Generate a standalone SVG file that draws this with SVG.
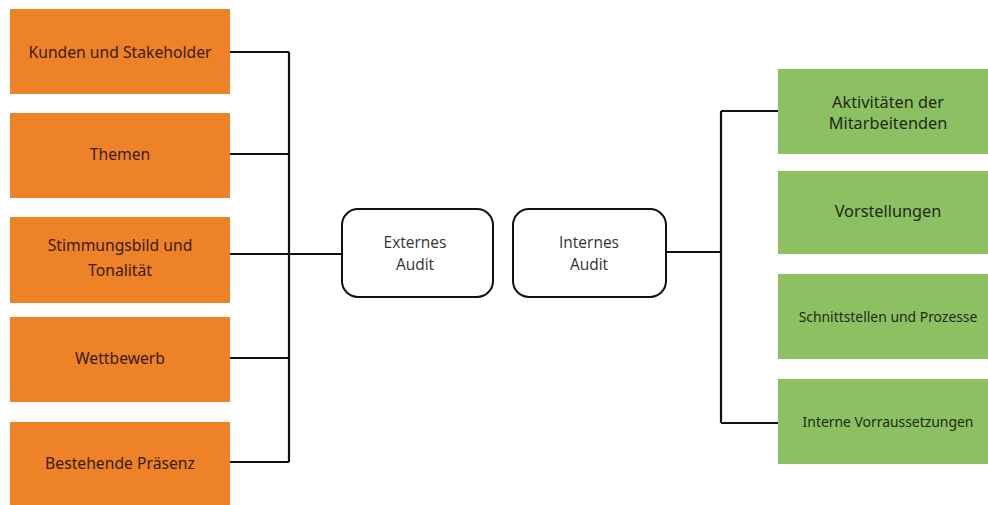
<svg xmlns="http://www.w3.org/2000/svg" width="988" height="505" viewBox="0 0 988 505">
<style>
.o{fill:#EE8228}
.g{fill:#8DC063}
.ot{font-family:"Noto Sans",sans-serif;font-size:15.7px;fill:#3a1c0c;text-anchor:middle}
.gt{font-family:"Noto Sans",sans-serif;font-size:16.3px;fill:#1f2a16;text-anchor:middle}
.gs{font-family:"Noto Sans",sans-serif;font-size:13.9px;fill:#1f2a16;text-anchor:middle}
.a{fill:#fff;stroke:#111;stroke-width:2}
.at{font-family:"Open Sans",sans-serif;font-size:15.5px;fill:#333;text-anchor:middle}
.c{fill:none;stroke:#111;stroke-width:2.2}
</style>
<rect width="988" height="505" fill="#fff"/>
<g id="kunden"><rect class="o" x="10" y="9" width="220" height="85"/><text class="ot" x="120" y="57.5">Kunden und Stakeholder</text></g>
<g id="themen"><rect class="o" x="10" y="113" width="220" height="85"/><text class="ot" x="120" y="159.5">Themen</text></g>
<g id="stimmung"><rect class="o" x="10" y="217" width="220" height="86"/><text class="ot" x="120" y="250.5">Stimmungsbild und</text><text class="ot" x="120" y="275.5">Tonalität</text></g>
<g id="wettbewerb"><rect class="o" x="10" y="317" width="220" height="85"/><text class="ot" x="120" y="363.5">Wettbewerb</text></g>
<g id="praesenz"><rect class="o" x="10" y="422" width="220" height="86"/><text class="ot" x="120" y="468.5">Bestehende Präsenz</text></g>
<g id="extern"><rect class="a" x="342" y="209" width="151" height="88" rx="16"/><text class="at" x="415" y="247.5">Externes</text><text class="at" x="415" y="269.5">Audit</text></g>
<g id="intern"><rect class="a" x="513" y="209" width="153" height="88" rx="16"/><text class="at" x="589" y="247.5">Internes</text><text class="at" x="589" y="269.5">Audit</text></g>
<g id="aktiv"><rect class="g" x="778" y="69" width="210" height="85"/><text class="gt" x="888" y="107.5">Aktivitäten der</text><text class="gt" x="888" y="128.5">Mitarbeitenden</text></g>
<g id="vorst"><rect class="g" x="778" y="171" width="210" height="83"/><text class="gt" x="888" y="216.5">Vorstellungen</text></g>
<g id="schnitt"><rect class="g" x="778" y="274" width="210" height="85"/><text class="gs" x="888" y="322">Schnittstellen und Prozesse</text></g>
<g id="voraus"><rect class="g" x="778" y="379" width="210" height="85"/><text class="gs" x="888" y="427">Interne Vorraussetzungen</text></g>
<g id="connectors">
<path class="c" d="M230 52H289M230 154H289M230 254H342M230 358H289M230 462H289M289 52V462"/>
<path class="c" d="M666 252H721M721 111V423M721 111H778M721 423H778"/>
</g>
</svg>
